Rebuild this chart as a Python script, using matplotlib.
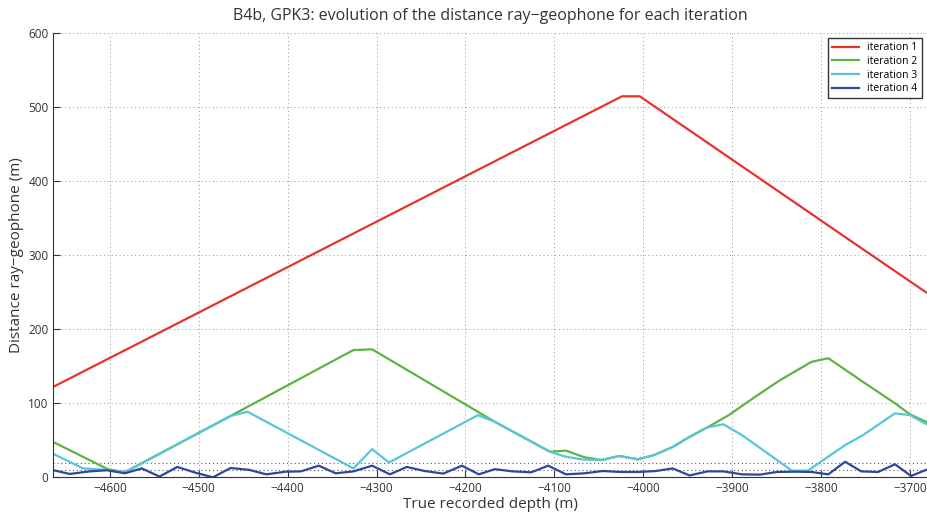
import matplotlib
matplotlib.use("Agg")
import matplotlib.pyplot as plt

plt.rcParams['font.family'] = ['Open Sans', 'DejaVu Sans']

# depth (m) / distance ray-geophone (m) for each iteration
depth_it1 = [-4664, -4024, -4004, -3760, -3682]
dist_it1 = [122, 515, 515, 314, 250]

depth_it2 = [-4664, -4602, -4583, -4464, -4354, -4326, -4305, -4167, -4105,
             -4087, -4066, -4047, -4027, -4006, -3988, -3967, -3949, -3928,
             -3904, -3874, -3846, -3811, -3792, -3753, -3717, -3700, -3682]
dist_it2 = [48, 10.8, 7, 83, 154, 172, 173, 75, 34.6,
            36, 27, 23.4, 28.8, 24.3, 30, 41, 54, 67.5,
            84, 109, 131.5, 156, 161, 129, 100, 85, 75]

depth_it3 = [-4664, -4630, -4602, -4583, -4464, -4445, -4354, -4326, -4305,
             -4286, -4186, -4167, -4105, -4088, -4068, -4047, -4027, -4006,
             -3988, -3967, -3949, -3928, -3910, -3889, -3833, -3815, -3773,
             -3753, -3717, -3700, -3682]
dist_it3 = [32, 12, 10, 6.7, 83, 88.6, 30, 12, 38,
            20, 84, 75, 34.6, 28, 24, 23.4, 28.8, 24.3,
            30, 41, 54, 67.5, 71.6, 57, 9, 9, 43.6,
            57, 86.5, 84, 72]

depth_it4 = [-4665, -4645, -4623, -4603, -4583, -4564, -4544, -4524, -4503,
             -4484, -4464, -4443, -4424, -4402, -4385, -4365, -4346, -4326,
             -4305, -4285, -4266, -4246, -4225, -4204, -4185, -4167, -4147,
             -4126, -4107, -4087, -4066, -4046, -4025, -4005, -3986, -3967,
             -3948, -3928, -3910, -3889, -3869, -3850, -3830, -3811, -3792,
             -3773, -3755, -3736, -3717, -3699, -3682]
dist_it4 = [10, 4.5, 8, 9.5, 5.4, 12, 1, 14, 6,
            0, 12.6, 10, 4, 7.6, 8, 15.7, 5.4, 8,
            15.7, 4, 14, 8.5, 5, 15.7, 4, 11, 8,
            6.7, 15.7, 4, 5.4, 8.5, 7.2, 7.2, 8.5, 12,
            2.5, 8, 8, 4, 3.6, 7.2, 7.6, 7.2, 4,
            21, 8, 7.2, 17.6, 1.8, 10]

thresholds = [10, 20]

fig = plt.figure(figsize=(9.27, 5.14), dpi=100)
ax = fig.add_axes([0.0575, 0.0714, 0.9425, 0.8636])

ax.plot(depth_it1, dist_it1, color='#e8322c', lw=1.6, label='iteration 1')
ax.plot(depth_it2, dist_it2, color='#5cb540', lw=1.6, label='iteration 2')
ax.plot(depth_it3, dist_it3, color='#56c6d8', lw=1.6, label='iteration 3')
ax.plot(depth_it4, dist_it4, color='#30469c', lw=1.6, label='iteration 4')

for t in thresholds:
    ax.axhline(t, color='0.35', lw=0.8, ls=(0, (1, 2.5)), zorder=1)

ax.set_xlim(-4663.5, -3681)
ax.set_ylim(0, 600)
ax.set_xticks(range(-4600, -3699, 100))
ax.set_yticks(range(0, 601, 100))
ax.grid(True, color='0.6', ls=(0, (1, 3)), lw=0.7)
ax.tick_params(direction='in', length=5, labelsize=8.5, colors='0.2')
ax.spines['top'].set_visible(False)
ax.spines['right'].set_visible(False)
for s in ('left', 'bottom'):
    ax.spines[s].set_color('0.2')

ax.set_xlabel('True recorded depth (m)', fontsize=11, color='0.2', labelpad=1)
ax.set_ylabel('Distance ray\u2212geophone (m)', fontsize=11, color='0.2', labelpad=3)
ax.set_title('B4b, GPK3: evolution of the distance ray\u2212geophone for each iteration',
             fontsize=11.5, color='0.2', pad=10)

leg = ax.legend(loc='upper right', fontsize=7.5, frameon=True, fancybox=False,
                handlelength=2.6, borderpad=0.4, labelspacing=0.25,
                borderaxespad=0, bbox_to_anchor=(0.994, 0.989))
leg.get_frame().set_edgecolor('black')
leg.get_frame().set_linewidth(1.0)

fig.savefig('out.png', dpi=100)
